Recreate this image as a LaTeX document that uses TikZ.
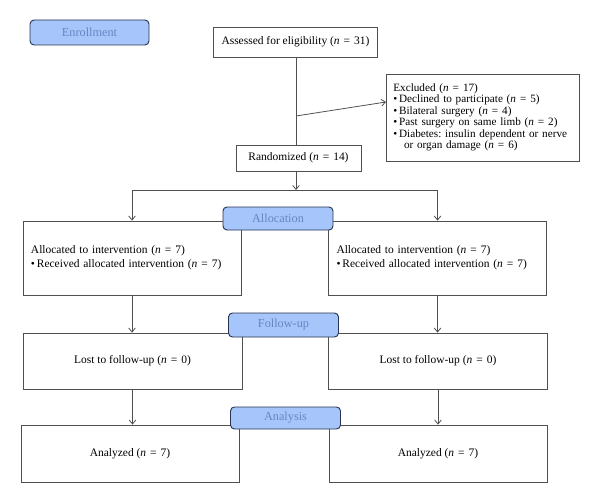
\documentclass[tikz,border=0pt]{standalone}
\usepackage{fontspec}
\setmainfont{Liberation Serif}
\usetikzlibrary{arrows.meta}
\definecolor{tagfill}{RGB}{166,197,250}
\definecolor{tagtext}{RGB}{104,134,196}
\definecolor{tagedge}{RGB}{40,52,80}
\definecolor{lineclr}{RGB}{80,80,80}
\newcommand{\nq}[1]{(\textit{n}\hspace{3pt}=\hspace{3pt}#1)}
\begin{document}
\frenchspacing
\begin{tikzpicture}[x=0.75pt,y=-0.75pt,
    box/.style={
      % The shape:
      rectangle,draw=lineclr,line width=0.6pt,inner xsep=6pt,
      % The rest
      fill=white,font=\fontsize{8.6}{10}\selectfont},
    tag/.style={
      rectangle,rounded corners=3pt,minimum width=82.5pt,minimum height=17.25pt,
      draw=tagedge,line width=0.7pt,fill=tagfill,
      text=tagtext,font=\fontsize{9.2}{10}\selectfont},
    link/.style={draw=lineclr,line width=0.6pt},
    arrow/.style={link,-{Straight Barb[length=3pt,width=5pt]}}]
  \useasboundingbox (0,0) rectangle (600,503);
  % enrollment
  \node [box,minimum width=114.75pt,minimum height=22.5pt] (assessed) at (295.5,42)
    {Assessed for eligibility \nq{31}};
  \node [box,minimum width=144.75pt,minimum height=65.25pt,align=left,inner xsep=5.5pt,
    text width=133.75pt,font=\fontsize{8.4}{8.6}\selectfont] (excluded) at (482.5,117.5)
    {Excluded \nq{17}\\
     \textbullet\,Declined to participate \nq{5}\\
     \textbullet\,Bilateral surgery \nq{4}\\
     \textbullet\,Past surgery on same limb \nq{2}\\
     \textbullet\,Diabetes: insulin dependent or nerve\\
     \hspace*{8pt}or organ damage \nq{6}};
  \node [box,minimum width=93.75pt,minimum height=19.5pt] (randomized) at (298.5,158)
    {Randomized \nq{14}};
  % allocation
  \node [box,minimum height=55.5pt,align=left,text width=151.5pt] (allocL) at (132,258)
    {Allocated to intervention \nq{7}\\[0.6pt]
     \textbullet\,Received allocated intervention \nq{7}};
  \node [box,minimum height=55.5pt,align=left,text width=151.5pt] (allocR) at (437.5,258)
    {Allocated to intervention \nq{7}\\[0.6pt]
     \textbullet\,Received allocated intervention \nq{7}};
  % follow-up
  \node [box,minimum width=164.25pt,minimum height=42pt] (lostL) at (132.5,361)
    {Lost to follow-up \nq{0}};
  \node [box,minimum width=164.25pt,minimum height=42pt] (lostR) at (438,361)
    {Lost to follow-up \nq{0}};
  % analysis
  \node [box,minimum width=163.5pt,minimum height=42.75pt] (analyzedL) at (130,453.5)
    {Analyzed \nq{7}};
  \node [box,minimum width=163.5pt,minimum height=42.75pt] (analyzedR) at (438,453.5)
    {Analyzed \nq{7}};
  % connectors
  \coordinate (split) at (296,116);
  \coordinate (exclIn) at (386,102);
  \coordinate (fork) at (296,190);
  \draw [link] (assessed.south -| split) -- (randomized.north -| split);
  \draw [arrow] (split) -- (exclIn);
  \draw [arrow] (randomized.south -| fork) -- (fork);
  \draw [link] (allocL.north |- fork) -- (allocR.north |- fork);
  \draw [arrow] (allocL.north |- fork) -- (allocL.north);
  \draw [arrow] (allocR.north |- fork) -- (allocR.north);
  \draw [arrow] (allocL.south) -- (allocL.south |- lostL.north);
  \draw [arrow] (allocR.south) -- (allocR.south |- lostR.north);
  \draw [arrow] (lostL.south) -- (lostL.south |- analyzedL.north);
  \draw [arrow] (lostR.south) -- (lostR.south |- analyzedR.north);
  % phase tags
  \node [tag,minimum width=89.25pt,minimum height=18.75pt] (tagEnroll) at (89.5,32.5) {Enrollment};
  \node [tag] (tagAlloc) at (278,218.5) {Allocation};
  \node [tag,minimum height=18pt] (tagFollow) at (283.5,325) {Follow-up};
  \node [tag,minimum height=16.5pt] (tagAnalysis) at (285.5,418) {Analysis};
\end{tikzpicture}
\end{document}
